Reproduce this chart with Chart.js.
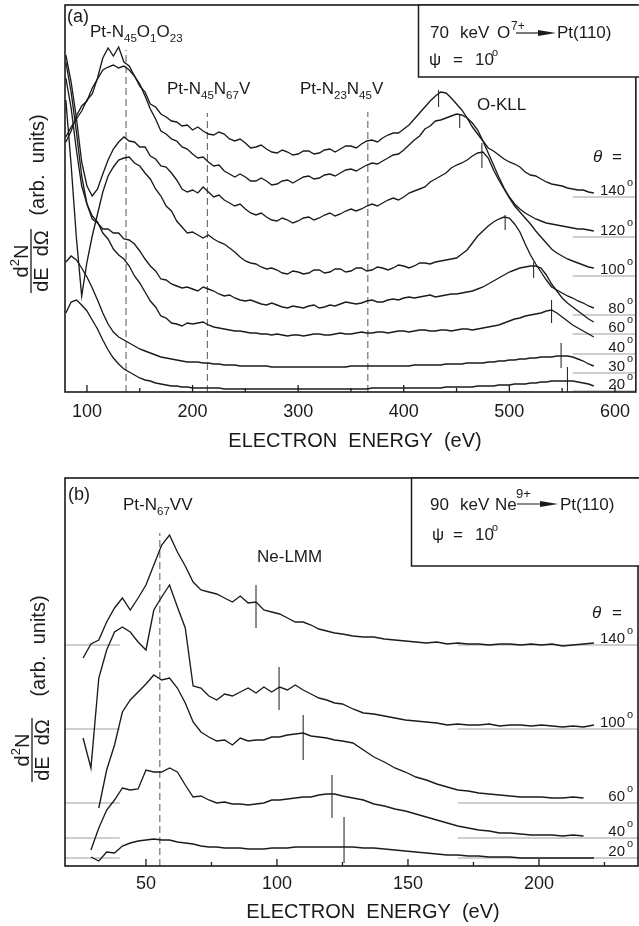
<!DOCTYPE html>
<html>
<head>
<meta charset="utf-8">
<script src="https://cdn.jsdelivr.net/npm/chart.js@4"></script>
<style>
  html, body { margin: 0; padding: 0; background: #fff; }
  #wrap { position: relative; width: 639px; height: 926px; }
  canvas { position: absolute; left: 0; }
  #chartA { top: 0; }
  #chartB { top: 463px; }
</style>
</head>
<body>
<div id="wrap">
  <canvas id="chartA" width="639" height="463"></canvas>
  <canvas id="chartB" width="639" height="463"></canvas>
</div>
<script>
// ---- panel (a): 70 keV O7+ -> Pt(110), arb. units ----
const energyA = [80,85,90,95,100,105,110,115,120,125,130,135,140,145,150,155,160,165,170,175,180,185,190,195,200,
  205,210,215,220,225,230,235,240,245,250,255,260,265,270,275,280,285,290,295,300,
  305,310,315,320,325,330,335,340,345,350,355,360,365,370,375,380,385,390,395,400,
  405,410,415,420,425,430,435,440,445,450,455,460,465,470,475,480,485,490,495,500,
  505,510,515,520,525,530,535,540,545,550,555,560,565,570,575,580];

const a140 = [250,261,276,286,291,304,313,322,325,327,324,326,322,316,306,300,288,285,278,275,271,270,266,267,262,
  265,261,258,257,260,258,253,251,253,249,244,245,247,243,240,239,242,240,237,238,
  241,241,238,239,242,243,240,243,246,246,244,248,251,252,250,254,257,259,259,263,
  267,273,279,285,291,296,300,299,294,288,282,274,265,258,251,244,241,237,233,230,
  228,225,220,217,216,213,210,208,207,206,204,203,202,202,200,199];
const a120 = [255,265,273,281,292,298,314,334,344,336,345,330,326,316,308,296,283,273,261,258,253,251,245,243,238,
  234,235,230,226,227,221,218,215,218,215,211,211,214,211,207,208,211,212,209,212,
  215,216,213,214,217,218,216,219,222,223,221,224,227,229,228,231,234,237,238,242,
  247,252,256,263,266,271,272,274,276,278,277,274,269,262,251,239,227,215,204,195,
  188,183,179,176,173,171,169,168,167,166,165,164,163,163,162,161];
const a100 = [337,310,274,230,206,196,203,218,232,243,250,255,251,250,245,245,236,233,226,225,219,212,203,200,202,
  199,205,200,195,197,192,189,186,188,183,179,177,179,175,172,171,174,172,169,171,
  174,175,172,174,177,179,176,178,181,183,181,183,186,188,186,189,192,194,192,195,
  199,201,203,205,210,213,216,219,224,227,229,232,236,239,240,234,222,212,203,194,
  186,180,174,168,161,155,149,143,139,136,133,131,129,127,125,124];
const a80 = [292,227,154,96,130,156,178,200,216,225,232,234,235,229,226,219,213,203,196,186,181,171,165,159,160,
  157,154,157,153,150,148,144,140,135,131,129,128,125,123,124,122,119,118,121,120,
  118,119,122,122,119,120,123,123,120,121,124,124,121,122,125,124,122,124,127,126,
  124,126,129,129,128,130,131,132,133,134,138,142,149,156,161,166,170,173,175,174,
  168,160,148,137,128,120,112,105,102,99,96,94,91,89,86,84];
const a60 = [330,300,260,216,188,173,169,163,163,159,159,153,152,148,141,133,126,121,113,112,108,106,104,105,103,
  101,105,103,101,98,96,97,94,92,91,92,90,88,87,89,87,85,84,86,85,
  84,86,87,84,85,87,86,88,90,89,88,89,91,92,90,90,92,93,92,94,
  95,94,95,96,97,95,96,97,98,98,99,100,101,103,105,108,111,114,117,120,
  122,124,125,126,126,124,117,108,101,94,89,85,81,77,73,70];
const a40 = [314,284,242,206,188,176,170,159,153,143,137,133,126,116,109,100,91,85,76,74,69,68,66,69,68,
  69,70,67,65,64,63,62,61,61,60,59,59,58,58,57,58,57,56,57,57,
  56,57,58,58,57,57,58,59,58,58,59,60,59,59,60,60,59,60,61,61,
  60,61,62,62,61,61,62,62,61,62,63,63,62,63,64,65,66,67,69,71,
  73,74,76,77,78,79,81,82,79,75,71,67,64,61,58,55];
const a30 = [130,136,132,124,115,104,92,79,68,60,55,52,49,46,43,41,39,37,35,34,33,32,31,30,30,
  30,29,29,28,28,27,27,27,26,26,26,26,26,26,25,25,25,25,25,25,
  25,25,25,25,25,25,25,25,25,26,26,26,26,26,26,26,26,26,26,26,
  26,27,27,27,27,27,27,28,28,28,28,29,29,29,29,30,30,31,31,32,
  32,33,33,34,34,35,35,35,36,36,36,35,33,31,28,26];
const a20 = [79,90,92,87,81,72,63,52,42,34,28,23,20,17,14,12,11,9,8,7,6,6,5,5,4,
  4,4,4,4,4,3,3,3,3,3,3,3,3,3,3,3,3,3,3,3,
  3,3,3,3,3,3,3,3,3,3,3,3,3,4,4,4,4,4,4,4,
  4,4,4,4,4,4,4,5,5,5,5,5,5,6,6,6,6,7,7,7,
  8,8,8,9,9,10,10,11,11,11,11,11,10,9,8,6];

const anglesA = ['140','120','100','80','60','40','30','20'];
const baseA = [195,155,116,77,58,38,19,1];
const okllEnergy = [433,453,474,496,523,540,549,555];
const okllLow = [285,264,224,162,114,69,24,0];
const okllHigh = [302,277,249,177,130,92,49,25];
const ptLinesA = [137,214,366];
const ptTopsA = [342,279,280];

// ---- panel (b): 90 keV Ne9+ -> Pt(110) ----
const energyB = [26,29,32,35,38,41,44,47,50,53,56,59,62,65,68,71,74,77,80,83,86,89,92,95,98,101,104,107,110,113,116,119,122,125,
  129,133,137,141,145,149,153,157,161,165,169,173,177,181,185,189,193,197,201,205,209,213,217,221];

const b140 = [208,222,226,244,258,268,256,268,281,301,321,331,314,300,284,276,274,272,268,264,270,263,264,256,254,252,248,244,244,241,237,235,233,232,
  230,229,229,227,226,225,224,223,224,222,223,222,222,221,222,222,221,222,221,222,220,221,222,223];
const b100 = [128,98,188,216,234,239,234,224,216,256,269,281,259,238,180,178,170,166,172,170,174,178,173,179,174,179,176,181,176,172,168,166,163,162,
  157,153,152,150,148,146,145,144,143,141,142,141,141,142,140,141,141,140,141,140,139,140,139,141];
const b60 = [null,null,58,96,121,154,166,174,182,191,186,188,178,163,144,134,129,125,126,121,128,125,126,126,129,129,131,132,133,130,129,128,126,125,
  123,116,109,104,98,94,89,86,82,79,76,75,73,72,71,70,69,69,69,68,68,69,68,null];
const b40 = [null,16,38,56,66,78,76,77,96,94,94,98,94,81,69,70,66,63,64,62,62,61,62,63,66,66,67,68,69,69,71,72,72,70,
  68,66,62,60,57,55,52,49,46,43,40,38,36,35,33,33,32,31,31,31,30,31,30,null];
const b20 = [null,9,5,14,13,20,23,25,26,27,26,26,24,23,22,20,19,19,18,18,18,17,17,17,18,18,18,19,19,19,19,19,19,19,
  19,18,18,17,16,15,14,13,12,11,11,10,10,9,9,9,8,8,8,8,8,8,8,8];

const anglesB = ['140','100','60','40','20'];
const baseB = [221,137,63,28,8];
const neEnergy = [92,100.8,110,121,125.6];
const neLow = [238,156,106,48,3];
const neHigh = [281,199,151,91,49];
const ptLineB = 55.3;
const ptTopB = 333;

const INK = '#1b1b1b';
const GREY = '#a0a0a0';
const FONT = '"Liberation Sans", Arial, Helvetica, sans-serif';

function pts(xs, ys) {
  return xs.map((x, i) => ({ x: x, y: ys[i] }));
}

function curve(label, xs, ys) {
  return { label: label, data: pts(xs, ys), borderColor: INK, borderWidth: 1.35,
    pointRadius: 0, tension: 0, spanGaps: false };
}

function segment(label, x1, y1, x2, y2, color, width, dash) {
  return { label: label, data: [{ x: x1, y: y1 }, { x: x2, y: y2 }], borderColor: color,
    borderWidth: width, borderDash: dash || [], pointRadius: 0, tension: 0 };
}

function drawParts(ctx, x, y, parts, size, italic) {
  ctx.textBaseline = 'alphabetic';
  ctx.textAlign = 'left';
  ctx.fillStyle = INK;
  parts.forEach(([s, k]) => {
    const fs = k ? size * 0.68 : size;
    ctx.font = (italic ? 'italic ' : '') + fs + 'px ' + FONT;
    const dy = k < 0 ? size * 0.3 : (k > 0 ? -size * 0.45 : 0);
    ctx.fillText(s, x, y + dy);
    x += ctx.measureText(s).width;
  });
  return x;
}

function yTitle(ctx, cx, fracCy, arbCy) {
  ctx.save();
  ctx.translate(cx, fracCy);
  ctx.rotate(-Math.PI / 2);
  ctx.fillStyle = INK;
  ctx.strokeStyle = INK;
  ctx.textBaseline = 'alphabetic';
  ctx.textAlign = 'left';
  // numerator d2N
  ctx.font = '20px ' + FONT;
  const wd = ctx.measureText('d').width, wn = ctx.measureText('N').width;
  ctx.font = '13px ' + FONT;
  const w2 = ctx.measureText('2').width;
  const u = -(wd + w2 + wn) / 2;
  ctx.font = '20px ' + FONT;
  ctx.fillText('d', u, -3);
  ctx.font = '13px ' + FONT;
  ctx.fillText('2', u + wd, -12);
  ctx.font = '20px ' + FONT;
  ctx.fillText('N', u + wd + w2, -3);
  // fraction bar
  ctx.lineWidth = 1.3;
  ctx.beginPath(); ctx.moveTo(-32, 0); ctx.lineTo(32, 0); ctx.stroke();
  // denominator
  ctx.textAlign = 'center';
  ctx.fillText('dE  dΩ', 0, 17);
  // (arb. units)
  ctx.fillText('(arb.  units)', fracCy - arbCy, 13);
  ctx.restore();
}

function arrow(ctx, x1, x2, y) {
  ctx.strokeStyle = INK;
  ctx.fillStyle = INK;
  ctx.lineWidth = 1.2;
  ctx.beginPath(); ctx.moveTo(x1, y); ctx.lineTo(x2 - 8, y); ctx.stroke();
  ctx.beginPath(); ctx.moveTo(x2 - 18, y - 3); ctx.lineTo(x2, y); ctx.lineTo(x2 - 18, y + 3); ctx.closePath(); ctx.fill();
}

const decor = {
  id: 'decor',
  afterDraw(chart, args, o) {
    const ctx = chart.ctx, a = chart.chartArea, xs = chart.scales.x, ys = chart.scales.y;
    ctx.save();
    ctx.strokeStyle = INK;
    ctx.lineWidth = 1.6;
    ctx.strokeRect(a.left, a.top, a.right - a.left, a.bottom - a.top);
    ctx.lineWidth = 1.3;
    const tick = (v, len) => {
      const x = xs.getPixelForValue(v);
      ctx.beginPath(); ctx.moveTo(x, a.bottom); ctx.lineTo(x, a.bottom - len); ctx.stroke();
    };
    o.major.forEach(v => tick(v, 7));
    o.minor.forEach(v => tick(v, 4));
    // legend box
    ctx.fillStyle = '#fff';
    ctx.fillRect(o.box[0], o.box[1], o.box[2] - o.box[0], o.box[3] - o.box[1]);
    ctx.lineWidth = 1.5;
    ctx.strokeRect(o.box[0], o.box[1], o.box[2] - o.box[0], o.box[3] - o.box[1]);
    arrow(ctx, o.arrow[0], o.arrow[1], o.arrow[2]);
    o.texts.forEach(t => drawParts(ctx, t.x, t.y, t.parts, t.size, t.italic));
    // angle labels sitting on their baselines
    o.angles.forEach((lab, i) => {
      const y = ys.getPixelForValue(o.base[i]) - 2;
      ctx.font = '15px ' + FONT;
      const w = ctx.measureText(lab).width;
      drawParts(ctx, 625 - w, y, [[lab, 0]], 15);
      drawParts(ctx, 627, y - 9, [['o', 0]], 11);
    });
    yTitle(ctx, o.yTitle[0], o.yTitle[1], o.yTitle[2]);
    ctx.font = '20px ' + FONT;
    ctx.textAlign = 'center';
    ctx.fillStyle = INK;
    ctx.fillText('ELECTRON  ENERGY  (eV)', o.xTitle[0], o.xTitle[1]);
    ctx.restore();
  }
};

function buildChart(id, cfg) {
  return new Chart(document.getElementById(id), {
    type: 'line',
    data: { datasets: cfg.datasets },
    options: {
      responsive: false,
      animation: false,
      devicePixelRatio: 1,
      layout: { padding: { left: 0, right: 1, top: cfg.top, bottom: 0 } },
      plugins: { legend: { display: false }, tooltip: { enabled: false }, decor: cfg.decor },
      scales: {
        x: {
          type: 'linear', min: cfg.xMin, max: cfg.xMax,
          afterFit: s => { s.height = cfg.xHeight; },
          grid: { display: false, drawTicks: false },
          border: { display: false },
          ticks: { stepSize: cfg.step, includeBounds: false, autoSkip: false, maxRotation: 0,
            padding: cfg.tickPad, color: INK, font: { family: FONT, size: 18 }, callback: v => v }
        },
        y: {
          min: 0, max: cfg.yMax,
          afterFit: s => { s.width = 65; },
          grid: { display: false, drawTicks: false },
          border: { display: false },
          ticks: { display: false }
        }
      }
    },
    plugins: [decor]
  });
}

// panel (a)
const setA = [a140, a120, a100, a80, a60, a40, a30, a20];
const dsA = [];
setA.forEach((ys, i) => dsA.push(curve(anglesA[i] + '°', energyA, ys)));
baseA.forEach(v => dsA.push(segment('baseline', 560, v, 620, v, GREY, 1.2)));
okllEnergy.forEach((e, i) => dsA.push(segment('O-KLL', e, okllLow[i], e, okllHigh[i], INK, 1)));
ptLinesA.forEach((e, i) => dsA.push(segment('Pt', e, 0, e, ptTopsA[i], '#555', 1, [7, 4])));

buildChart('chartA', {
  datasets: dsA, top: 5, xMin: 79.2, xMax: 619.8, yMax: 387, xHeight: 71, step: 100, tickPad: 9,
  decor: {
    major: [100, 200, 300, 400, 500, 600], minor: [150, 250, 350, 450, 550],
    box: [418.5, 5, 640, 77], arrow: [516, 556, 33],
    angles: anglesA, base: baseA,
    yTitle: [31, 261, 165], xTitle: [355, 447],
    texts: [
      { x: 67, y: 22, size: 18, parts: [['(a)', 0]] },
      { x: 90, y: 37, size: 17, parts: [['Pt-N', 0], ['45', -1], ['O', 0], ['1', -1], ['O', 0], ['23', -1]] },
      { x: 167, y: 94, size: 17, parts: [['Pt-N', 0], ['45', -1], ['N', 0], ['67', -1], ['V', 0]] },
      { x: 300, y: 94, size: 17, parts: [['Pt-N', 0], ['23', -1], ['N', 0], ['45', -1], ['V', 0]] },
      { x: 477, y: 110, size: 17, parts: [['O-KLL', 0]] },
      { x: 430, y: 38, size: 17, parts: [['70', 0]] },
      { x: 460, y: 38, size: 17, parts: [['keV', 0]] },
      { x: 497, y: 38, size: 17, parts: [['O', 0]] },
      { x: 511, y: 30, size: 12, parts: [['7+', 0]] },
      { x: 557, y: 38, size: 17, parts: [['Pt(110)', 0]] },
      { x: 429, y: 65, size: 17, parts: [['ψ', 0]] },
      { x: 453, y: 65, size: 17, parts: [['=', 0]] },
      { x: 475, y: 65, size: 17, parts: [['10', 0]] },
      { x: 492, y: 56, size: 11, parts: [['o', 0]] },
      { x: 593, y: 162, size: 17, italic: true, parts: [['θ', 0]] },
      { x: 612, y: 162, size: 17, parts: [['=', 0]] }
    ]
  }
});

// panel (b)
const setB = [b140, b100, b60, b40, b20];
const dsB = [];
setB.forEach((ys, i) => dsB.push(curve(anglesB[i] + '°', energyB, ys)));
baseB.forEach(v => dsB.push(segment('baseline', 169, v, 240, v, GREY, 1.2)));
baseB.forEach(v => dsB.push(segment('baseline', 19, v, 40, v, GREY, 1.2)));
neEnergy.forEach((e, i) => dsB.push(segment('Ne-LMM', e, neLow[i], e, neHigh[i], INK, 1)));
dsB.push(segment('Pt-N67VV', ptLineB, 0, ptLineB, ptTopB, '#555', 1, [7, 4]));

buildChart('chartB', {
  datasets: dsB, top: 15, xMin: 19.1, xMax: 237.8, yMax: 388, xHeight: 60, step: 50, tickPad: 7,
  decor: {
    major: [50, 100, 150, 200], minor: [75, 125, 175, 225],
    box: [411.5, 15, 640, 103], arrow: [517, 558, 41],
    angles: anglesB, base: baseB,
    yTitle: [32, 287, 183], xTitle: [373, 455],
    texts: [
      { x: 68, y: 37, size: 18, parts: [['(b)', 0]] },
      { x: 123, y: 47, size: 17, parts: [['Pt-N', 0], ['67', -1], ['VV', 0]] },
      { x: 257, y: 99, size: 17, parts: [['Ne-LMM', 0]] },
      { x: 430, y: 47, size: 17, parts: [['90', 0]] },
      { x: 460, y: 47, size: 17, parts: [['keV', 0]] },
      { x: 495, y: 47, size: 17, parts: [['Ne', 0]] },
      { x: 516, y: 35, size: 13, parts: [['9+', 0]] },
      { x: 560, y: 47, size: 17, parts: [['Pt(110)', 0]] },
      { x: 432, y: 77, size: 17, parts: [['ψ', 0]] },
      { x: 453, y: 77, size: 17, parts: [['=', 0]] },
      { x: 475, y: 77, size: 17, parts: [['10', 0]] },
      { x: 492, y: 68, size: 11, parts: [['o', 0]] },
      { x: 592, y: 155, size: 17, italic: true, parts: [['θ', 0]] },
      { x: 612, y: 155, size: 17, parts: [['=', 0]] }
    ]
  }
});
</script>
</body>
</html>
